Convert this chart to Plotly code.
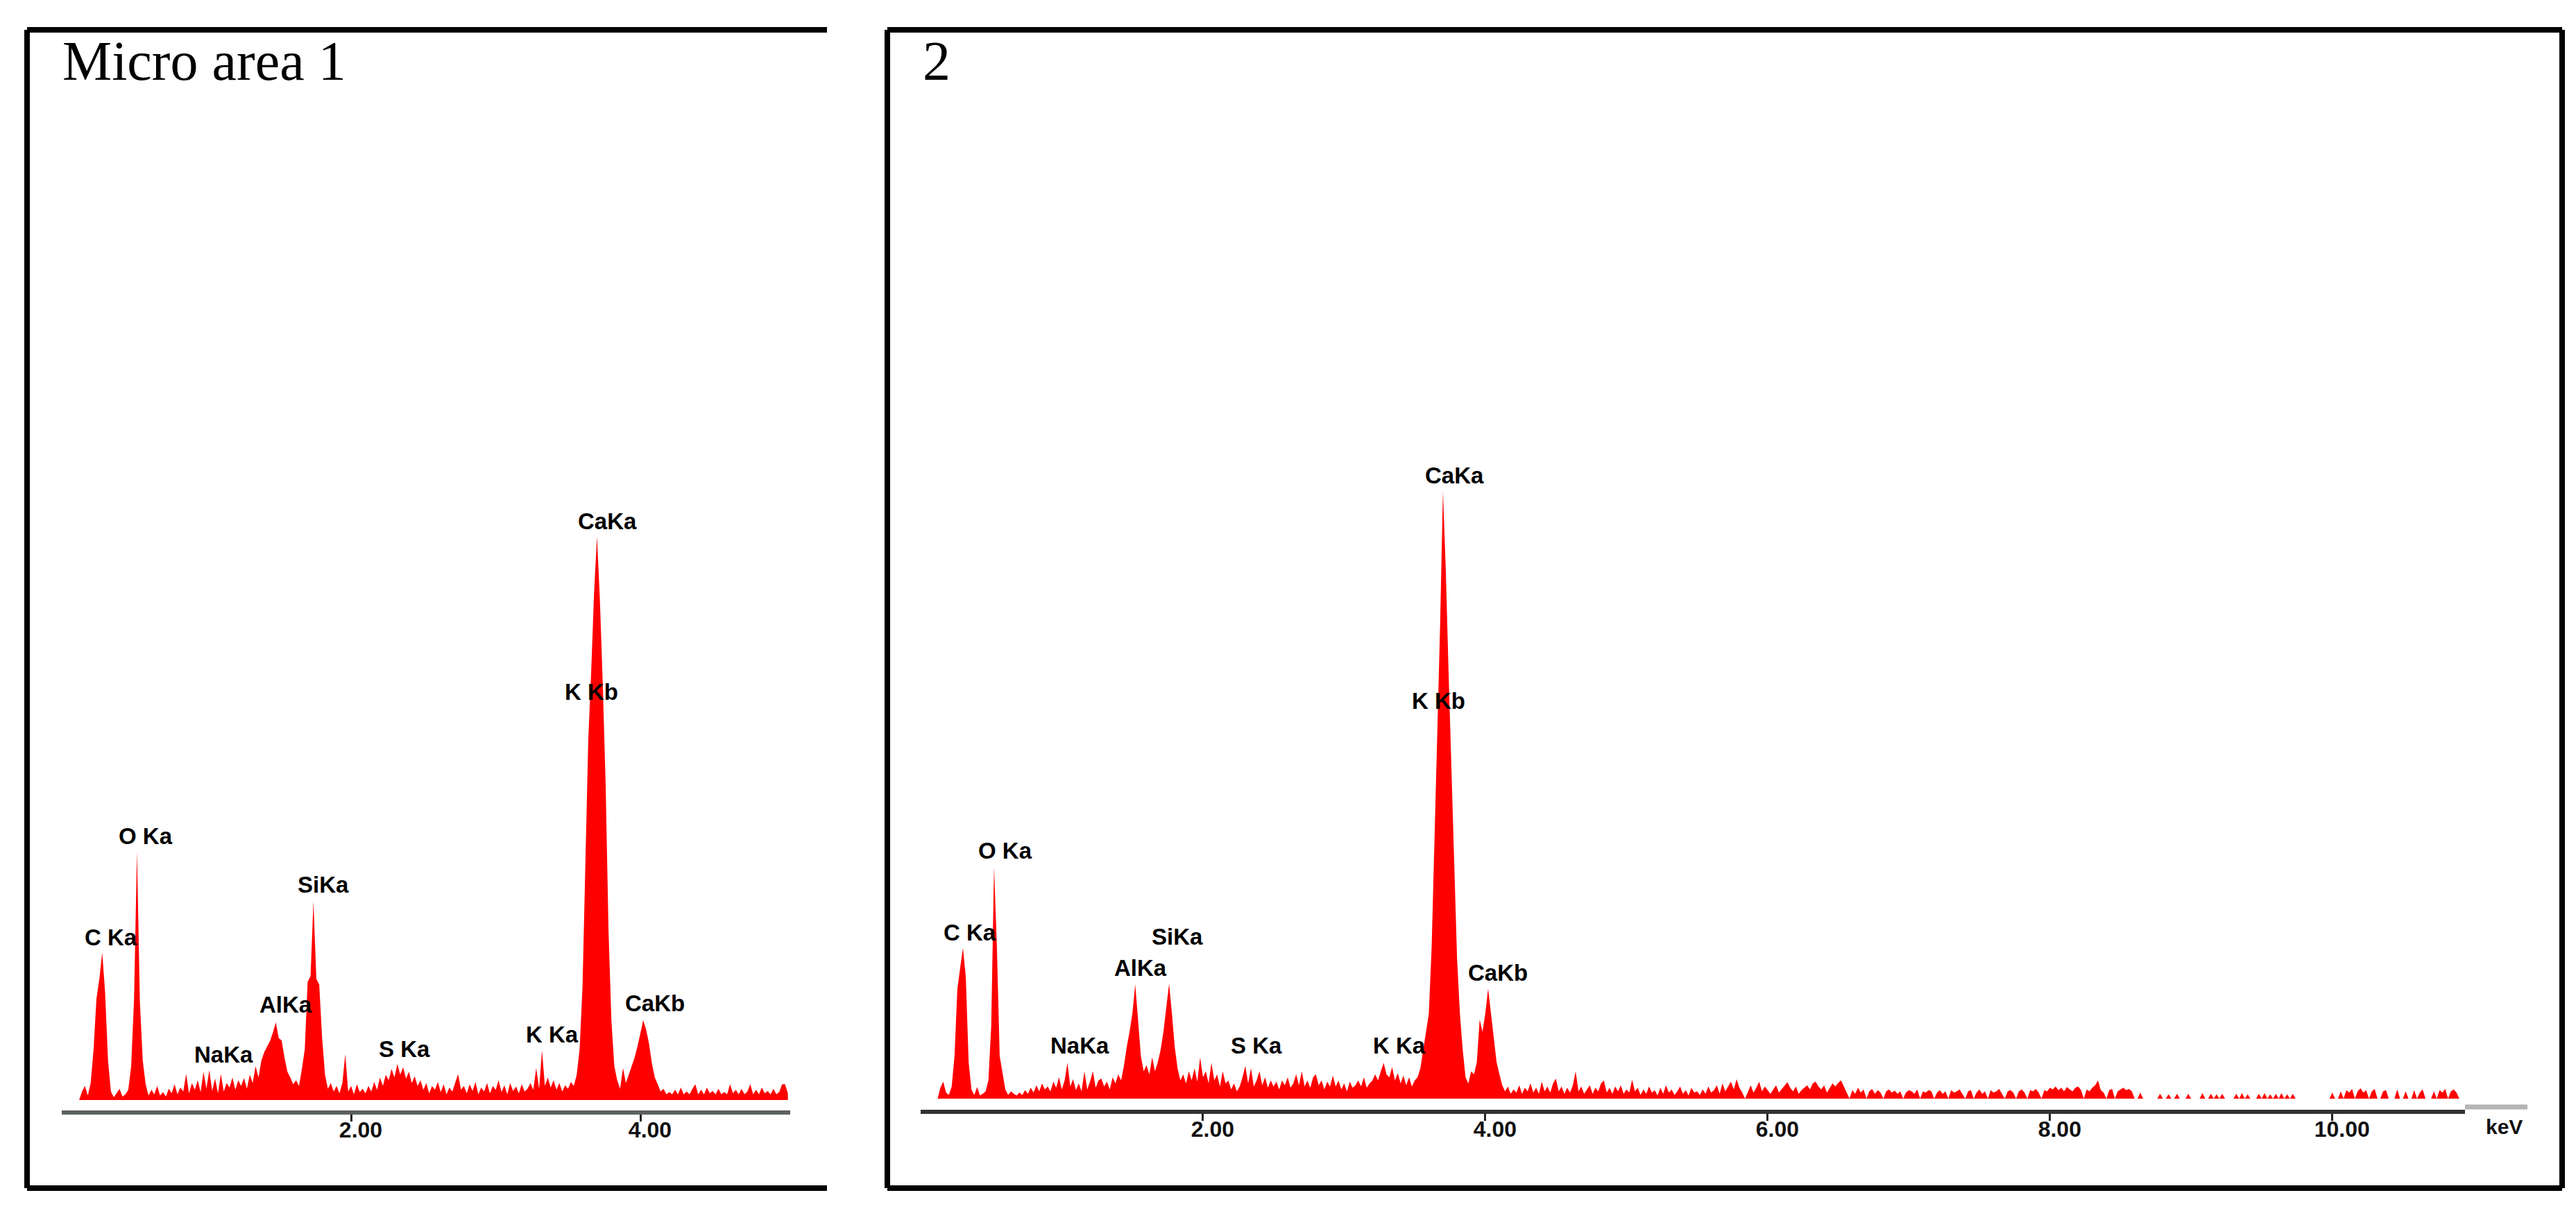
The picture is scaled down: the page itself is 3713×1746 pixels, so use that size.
"""EDS spectra of two micro areas, drawn as filled red traces in framed panels."""

import plotly.graph_objects as go

W, H = 3713, 1746

# detector calibration: first channel energy and channel width (keV)
E0 = 0.12
DE = 0.02

# counts per channel, scaled so the CaKa peak is 1000
COUNTS_1 = [
    0, 15, 25, 8, 30, 90, 180, 215, 262, 190,
    70, 15, 5, 12, 20, 6, 10, 18, 60, 180,
    441, 175, 70, 28, 8, 18, 10, 25, 8, 14,
    6, 20, 12, 28, 10, 22, 15, 46, 12, 30,
    18, 35, 14, 50, 20, 53, 16, 38, 12, 46,
    15, 30, 22, 40, 18, 35, 25, 39, 20, 45,
    30, 60, 40, 70, 85, 95, 105, 120, 138, 110,
    106, 75, 50, 40, 28, 35, 25, 55, 90, 210,
    220, 353, 215, 205, 110, 45, 20, 30, 15, 25,
    12, 30, 81, 15, 25, 10, 28, 14, 20, 12,
    25, 15, 32, 18, 40, 25, 45, 35, 55, 40,
    64, 45, 58, 38, 50, 30, 42, 25, 35, 18,
    30, 12, 25, 18, 32, 14, 28, 10, 22, 15,
    30, 46, 18, 25, 12, 28, 16, 32, 10, 22,
    15, 30, 12, 25, 18, 35, 14, 26, 10, 30,
    16, 24, 12, 28, 15, 20, 30, 18, 57, 20,
    88, 25, 40, 22, 35, 18, 30, 15, 26, 20,
    32, 25, 45, 90, 200, 430, 640, 760, 900, 1000,
    890, 740, 560, 300, 140, 60, 35, 20, 57, 30,
    45, 60, 75, 95, 118, 142, 125, 100, 65, 40,
    28, 15, 20, 10, 14, 10, 18, 10, 22, 10,
    15, 10, 20, 28, 10, 18, 10, 22, 12, 16,
    10, 20, 10, 14, 10, 28, 12, 18, 10, 20,
    10, 15, 28, 10, 18, 10, 22, 12, 16, 10,
    20, 10, 14, 28, 28, 12,
]

COUNTS_2 = [
    0, 18, 28, 10, 6, 20, 70, 180, 215, 248,
    200, 60, 15, 6, 19, 5, 8, 12, 30, 120,
    381, 250, 70, 40, 15, 6, 12, 8, 5, 10,
    6, 14, 8, 18, 10, 22, 12, 25, 15, 20,
    12, 28, 18, 35, 15, 30, 59, 20, 32, 14,
    25, 12, 45, 15, 28, 45, 18, 30, 33, 20,
    28, 15, 35, 25, 40, 30, 54, 85, 110, 140,
    188, 130, 70, 45, 55, 40, 68, 45, 60, 80,
    110, 150, 189, 140, 85, 50, 30, 40, 25, 45,
    30, 50, 28, 68, 35, 45, 25, 59, 30, 40,
    20, 45, 25, 30, 15, 25, 12, 20, 35, 54,
    25, 50, 20, 30, 45, 22, 35, 18, 30, 20,
    28, 15, 30, 22, 35, 18, 25, 40, 22, 45,
    20, 30, 18, 35, 40, 22, 30, 15, 28, 20,
    38, 20, 30, 15, 25, 12, 28, 18, 22, 30,
    20, 35, 18, 25, 30, 40, 30, 45, 59, 40,
    35, 52, 30, 42, 25, 38, 22, 35, 20, 30,
    35, 50, 80, 110, 140, 250, 420, 600, 780, 1000,
    870, 700, 540, 380, 230, 140, 80, 35, 25, 45,
    40, 60, 130, 110, 140, 181, 140, 100, 60, 40,
    22, 12, 20, 8, 15, 10, 22, 8, 18, 12,
    25, 10, 18, 8, 28, 12, 20, 10, 25, 33,
    12, 20, 8, 18, 10, 22, 45, 12, 20, 8,
    15, 22, 8, 18, 12, 25, 30, 10, 18, 8,
    20, 12, 22, 8, 15, 10, 31, 12, 18, 6,
    15, 8, 20, 10, 14, 5, 18, 8, 22, 10,
    15, 6, 12, 20, 8, 14, 5, 18, 10, 12,
    6, 15, 8, 20, 10, 14, 22, 8, 25, 12,
    20, 28, 15, 32, 18, 10, 0, 12, 22, 10,
    18, 28, 12, 20, 14, 8, 15, 22, 10, 16,
    22, 27, 18, 12, 20, 8, 14, 18, 22, 15,
    25, 28, 20, 15, 22, 10, 18, 25, 20, 26,
    30, 20, 12, 0, 14, 8, 18, 10, 15, 0,
    12, 16, 8, 14, 10, 0, 12, 15, 10, 13,
    8, 12, 0, 10, 14, 12, 8, 15, 0, 12,
    10, 14, 12, 0, 10, 14, 8, 12, 0, 14,
    10, 12, 15, 8, 0, 12, 14, 0, 10, 15,
    8, 12, 0, 14, 10, 12, 16, 8, 0, 12,
    14, 10, 0, 12, 15, 10, 0, 14, 12, 16,
    10, 0, 14, 12, 18, 15, 20, 14, 18, 12,
    19, 15, 12, 18, 20, 14, 0, 15, 12, 18,
    22, 30, 14, 10, 0, 14, 16, 0, 12, 15,
    18, 14, 16, 12, 0, 0, 10, 0, 0, 0,
    0, 0, 0, 8, 0, 0, 7, 0, 0, 8,
    0, 0, 0, 8, 0, 0, 0, 0, 9, 0,
    0, 8, 0, 7, 0, 8, 0, 0, 0, 0,
    8, 0, 9, 0, 7, 0, 0, 0, 8, 0,
    9, 0, 7, 0, 8, 0, 9, 0, 7, 0,
    8, 0, 0, 0, 0, 0, 0, 0, 0, 0,
    0, 0, 0, 0, 10, 0, 0, 12, 0, 14,
    10, 16, 0, 12, 17, 10, 14, 0, 12, 16,
    0, 0, 12, 14, 0, 0, 0, 15, 0, 0,
    12, 0, 0, 14, 0, 10, 15, 0, 0, 0,
    12, 0, 14, 10, 16, 0, 12, 15, 10, 0,
    0, 0,
]

PEAKS = ["C Ka", "O Ka", "NaKa", "AlKa", "SiKa", "S Ka", "K Ka", "CaKa", "K Kb", "CaKb"]
LABEL_X_1 = [0.34, 0.58, 1.12, 1.55, 1.81, 2.37, 3.39, 3.77, 3.66, 4.10]
LABEL_Y_1 = [289, 469, 81, 169, 382, 91, 116, 1028, 724, 172]
LABEL_X_2 = [0.35, 0.60, 1.13, 1.56, 1.82, 2.38, 3.39, 3.78, 3.67, 4.09]
LABEL_Y_2 = [273, 408, 87, 215, 266, 87, 87, 1026, 655, 207]

TICKS_1 = [2, 4]
TICKS_2 = [2, 4, 6, 8, 10]

PANEL_TITLES = ["Micro area 1", "2"]

RED = "#ff0000"
SANS = "Liberation Sans, Arial, sans-serif"
SERIF = "Liberation Serif, Times New Roman, serif"


def px(x):
    return x / W


def py(y):
    return 1 - y / H


fig = go.Figure()
for counts, xa, ya in [(COUNTS_1, "x", "y"), (COUNTS_2, "x2", "y2")]:
    fig.add_trace(
        go.Scatter(
            y=counts, x0=E0, dx=DE,
            mode="lines",
            line=dict(color=RED, width=0),
            fill="tozeroy", fillcolor=RED,
            xaxis=xa, yaxis=ya,
            showlegend=False, hoverinfo="skip",
        )
    )

_xcommon = dict(
    showgrid=False, zeroline=False, showline=True, linewidth=6,
    ticks="outside", ticklen=10, tickwidth=3, tickcolor="#222222",
    tickformat=".2f", ticklabelshift=14, ticklabelstandoff=-15,
    tickfont=dict(family=SANS, size=32, color="#111111", weight="bold"),
)
_yhidden = dict(visible=False, showgrid=False, zeroline=False)

fig.update_layout(
    width=W, height=H,
    margin=dict(l=0, r=0, t=0, b=0),
    paper_bgcolor="white", plot_bgcolor="white",
    xaxis=dict(**_xcommon, domain=[px(81), px(1131)], range=[0, 5.036],
               anchor="y", tickvals=TICKS_1, linecolor="#5c6060"),
    yaxis=dict(**_yhidden, domain=[py(1593), 0.96], range=[-18.5, 1857], anchor="x"),
    xaxis2=dict(**_xcommon, domain=[px(1319), px(3545)], range=[0, 10.94],
                anchor="y2", tickvals=TICKS_2, linecolor="#333333"),
    yaxis2=dict(**_yhidden, domain=[py(1592), 0.96], range=[-18.3, 1719], anchor="x2"),
)

# peak labels
for lx, ly, xa, ya in [(LABEL_X_1, LABEL_Y_1, "x", "y"), (LABEL_X_2, LABEL_Y_2, "x2", "y2")]:
    for name, x, y in zip(PEAKS, lx, ly):
        fig.add_annotation(
            x=x, y=y, xref=xa, yref=ya, text=name, showarrow=False,
            xanchor="center", yanchor="middle",
            font=dict(family=SANS, size=33, color="black", weight="bold"),
        )

# panel titles
for title, left in zip(PANEL_TITLES, [80, 1320]):
    fig.add_annotation(
        x=px(left), y=py(80), xref="paper", yref="paper", text=title,
        showarrow=False, xanchor="left", yanchor="middle",
        font=dict(family=SERIF, size=80, color="black"),
    )

fig.add_annotation(
    x=px(3601), y=py(1616), xref="paper", yref="paper", text="keV",
    showarrow=False, xanchor="center", yanchor="middle",
    font=dict(family=SANS, size=30, color="#111111", weight="bold"),
)

# grey stub continuing the energy axis of panel 2
fig.add_shape(type="line", xref="paper", yref="paper",
              x0=px(3545), x1=px(3635), y0=py(1588), y1=py(1588),
              line=dict(color="#b4b4b4", width=7))

# panel frames: first panel is open on the right
frame = dict(color="black", width=8)
for x0, y0, x1, y1 in [
    (31, 35, 1184, 35), (31, 35, 31, 1705), (31, 1705, 1184, 1705),
    (1271, 35, 3685, 35), (1271, 35, 1271, 1705), (1271, 1705, 3685, 1705),
    (3685, 35, 3685, 1705),
]:
    fig.add_shape(type="line", xref="paper", yref="paper",
                  x0=px(x0), y0=py(y0), x1=px(x1), y1=py(y1), line=frame)

fig.write_html("out.html")
